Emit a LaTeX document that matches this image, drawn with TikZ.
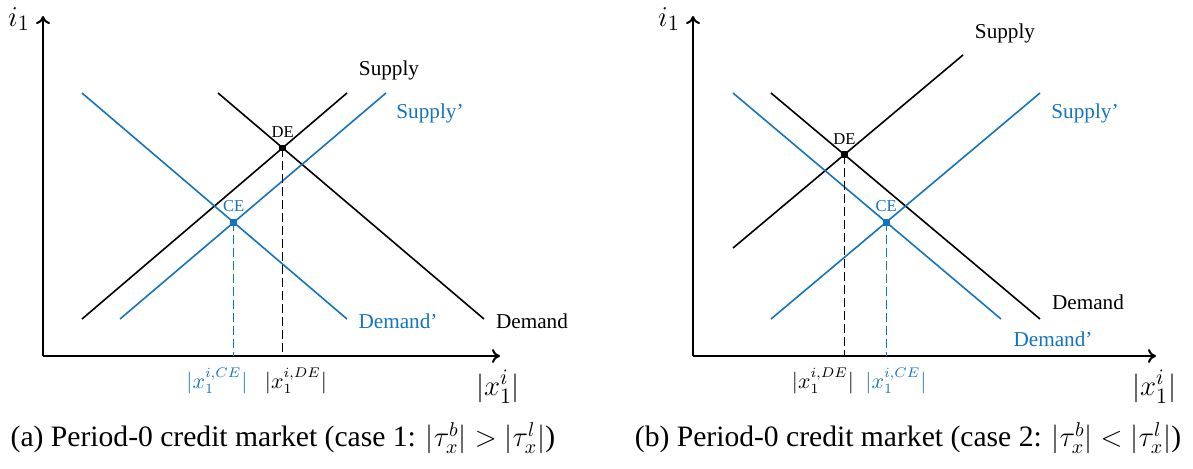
\documentclass[tikz,border=0pt]{standalone}
\usepackage{amsmath}
\usepackage{fontspec}
\setmainfont{Liberation Serif}
\usetikzlibrary{arrows.meta, positioning}
\definecolor{shiftblue}{RGB}{20,116,189}

\begin{document}
\begin{tikzpicture}[
        x=0.5pt, y=-0.5pt,
        axis/.style = {draw=black, line width=1pt, -{To[length=4pt, width=7pt]}},
        curve/.style = {draw=black, line width=0.8pt},
        newcurve/.style = {curve, draw=shiftblue},
        guide/.style = {line width=0.6pt, dash pattern=on 4.5pt off 2pt},
        eqpt/.style = {rectangle, fill, inner sep=0pt, minimum size=3.4pt},
        eqlabel/.style = {font=\fontsize{8.3}{10}\selectfont, above=5pt, inner sep=0pt},
        curvelabel/.style = {font=\fontsize{10.6}{12}\selectfont, inner sep=0pt},
        axislabel/.style = {font=\fontsize{15}{17}\selectfont, inner sep=0pt},
        ticklabel/.style = {font=\fontsize{10.5}{12}\selectfont, inner sep=0pt},
        caption/.style = {font=\fontsize{14.8}{17}\selectfont, inner sep=0pt}
    ]
        \useasboundingbox (0,0) rectangle (1193,468);

        % (a) case 1
        \coordinate (a-O) at (43,356);
        \draw [axis] (a-O) -- (43,16) coordinate (a-Y);
        \draw [axis] (a-O) -- (500,356) coordinate (a-X);
        \node (a-ylab) [axislabel] at (19,19) {$i_1$};
        \node (a-xlab) [axislabel] at (498,387) {$|x_1^i|$};

        \coordinate (a-S1) at (82,319);  \coordinate (a-S2) at (347,93);
        \coordinate (a-D1) at (218,93);  \coordinate (a-D2) at (484,319);
        \coordinate (a-T1) at (120,319); \coordinate (a-T2) at (386,93);
        \coordinate (a-E1) at (82,93);   \coordinate (a-E2) at (347,319);

        \draw [curve] (a-S1) -- (a-S2);
        \draw [curve] (a-D1) -- (a-D2);
        \draw [newcurve] (a-T1) -- (a-T2);
        \draw [newcurve] (a-E1) -- (a-E2);

        \coordinate (a-DE) at (intersection of a-S1--a-S2 and a-D1--a-D2);
        \coordinate (a-CE) at (intersection of a-T1--a-T2 and a-E1--a-E2);
        \draw [guide] (a-DE) -- (a-DE |- a-O);
        \draw [guide, shiftblue] (a-CE) -- (a-CE |- a-O);
        \node (a-dept) [eqpt] at (a-DE) {};
        \node (a-cept) [eqpt, fill=shiftblue] at (a-CE) {};
        \node [eqlabel] at (a-DE) {DE};
        \node [eqlabel, text=shiftblue] at (a-CE) {CE};

        \node [curvelabel] at (389,70) {Supply};
        \node [curvelabel, text=shiftblue] at (430,113) {Supply’};
        \node [curvelabel] at (532,321) {Demand};
        \node [curvelabel, text=shiftblue] at (398,321) {Demand’};

        \node [ticklabel, text=shiftblue] at (217,381) {$|x_1^{i,CE}|$};
        \node [ticklabel] at (296,381) {$|x_1^{i,DE}|$};

        \node (a-cap) [caption] at (283,438) {(a) Period-0 credit market (case 1: $|\tau_x^b|>|\tau_x^l|$)};

        % (b) case 2
        \coordinate (b-O) at (693,356);
        \draw [axis] (b-O) -- (693,16) coordinate (b-Y);
        \draw [axis] (b-O) -- (1156,356) coordinate (b-X);
        \node (b-ylab) [axislabel] at (669,19) {$i_1$};
        \node (b-xlab) [axislabel] at (1154,387) {$|x_1^i|$};

        \coordinate (b-S1) at (733,248);  \coordinate (b-S2) at (963,55);
        \coordinate (b-D1) at (771,93);   \coordinate (b-D2) at (1040,319);
        \coordinate (b-T1) at (771,319);  \coordinate (b-T2) at (1040,93);
        \coordinate (b-E1) at (733,93);   \coordinate (b-E2) at (1001,319);

        \draw [curve] (b-S1) -- (b-S2);
        \draw [curve] (b-D1) -- (b-D2);
        \draw [newcurve] (b-T1) -- (b-T2);
        \draw [newcurve] (b-E1) -- (b-E2);

        \coordinate (b-DE) at (intersection of b-S1--b-S2 and b-D1--b-D2);
        \coordinate (b-CE) at (intersection of b-T1--b-T2 and b-E1--b-E2);
        \draw [guide] (b-DE) -- (b-DE |- b-O);
        \draw [guide, shiftblue] (b-CE) -- (b-CE |- b-O);
        \node (b-dept) [eqpt] at (b-DE) {};
        \node (b-cept) [eqpt, fill=shiftblue] at (b-CE) {};
        \node [eqlabel] at (b-DE) {DE};
        \node [eqlabel, text=shiftblue] at (b-CE) {CE};

        \node [curvelabel] at (1005,33) {Supply};
        \node [curvelabel, text=shiftblue] at (1085,113) {Supply’};
        \node [curvelabel] at (1088,302) {Demand};
        \node [curvelabel, text=shiftblue] at (1053,339) {Demand’};

        \node [ticklabel] at (823,381) {$|x_1^{i,DE}|$};
        \node [ticklabel, text=shiftblue] at (896,381) {$|x_1^{i,CE}|$};

        \node (b-cap) [caption] at (908,438) {(b) Period-0 credit market (case 2: $|\tau_x^b|<|\tau_x^l|$)};

    \end{tikzpicture}
\end{document}
